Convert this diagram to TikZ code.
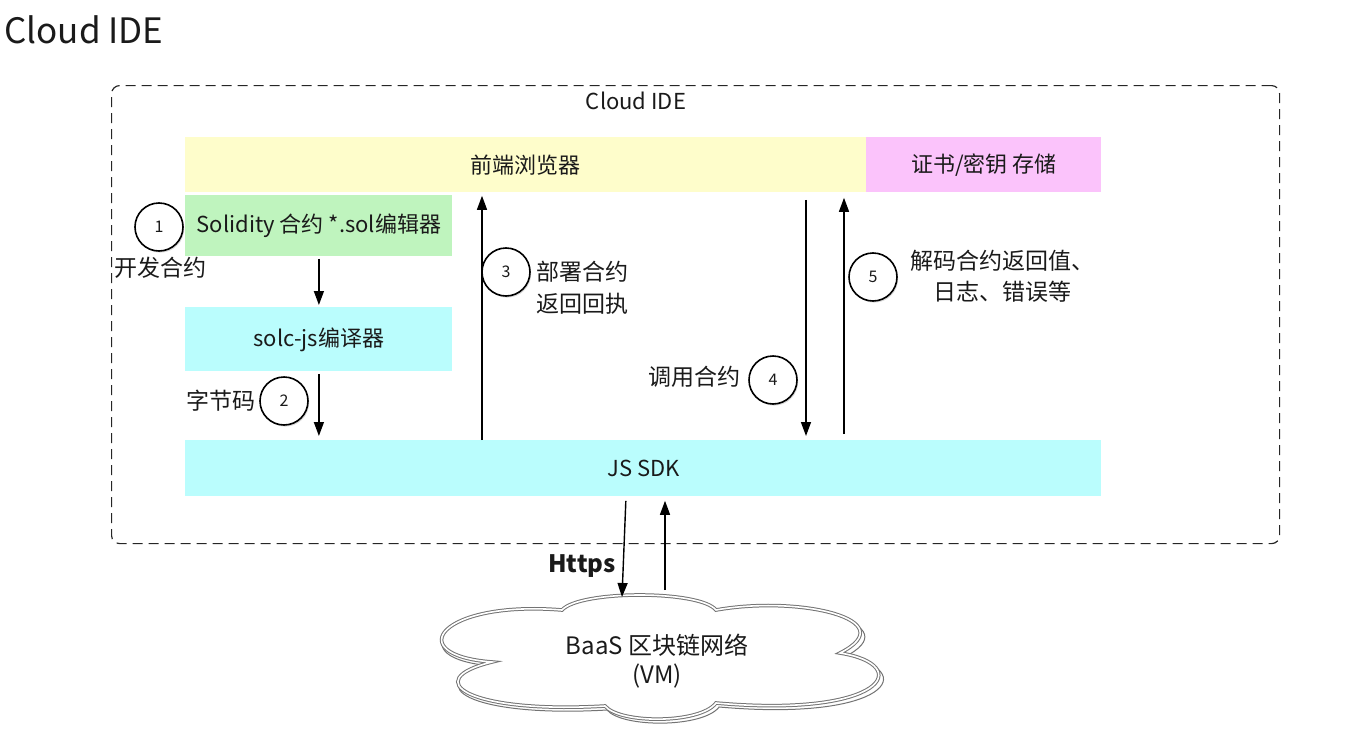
\documentclass[tikz,border=0pt]{standalone}
\usepackage{fontspec}
\setmainfont{Noto Sans CJK SC}
\usetikzlibrary{arrows.meta,shadows}
\definecolor{cyanbox}{HTML}{BAFDFD}
\definecolor{yelbox}{HTML}{FEFDCB}
\definecolor{pinkbox}{HTML}{FBC3FB}
\definecolor{grnbox}{HTML}{BFF4BE}
\definecolor{txt}{HTML}{1A1A1A}
\begin{document}
\begin{tikzpicture}[x=0.5pt,y=-0.5pt,
  box/.style={anchor=north west, inner sep=0pt},
  boxtxt/.style={font=\fontsize{11}{13}\selectfont, text=txt, inner sep=0pt},
  arr/.style={-{Triangle[length=7pt,width=5pt]}, line width=0.7pt, black},
  num/.style={circle, draw=black, line width=0.8pt, fill=white, minimum size=24pt, inner sep=0pt,
    font=\fontsize{8}{9}\selectfont, text=txt,
    drop shadow={shadow xshift=0.6pt, shadow yshift=-0.8pt, opacity=0.3}},
  lbl/.style={font=\fontsize{11.5}{16}\selectfont, text=txt, inner sep=0pt},
  cloudline/.style={draw=black!55, fill=white, line width=0.5pt}]
\useasboundingbox (0,0) rectangle (1350,744);

% title
\node[anchor=west, inner sep=0pt, font=\fontsize{17.5}{20}\selectfont, text=txt] (title) at (4,30) {Cloud IDE};

% dashed frame
\node[draw=black!85, dash pattern=on 5pt off 3pt, line width=0.6pt, rounded corners=4pt,
  minimum width=584pt, minimum height=229pt, anchor=north west, inner sep=0pt] (ide) at (111,85) {};
\node[lbl, font=\fontsize{11}{13}\selectfont] (idelbl) at (636,101) {Cloud IDE};

% boxes
\node[box, fill=yelbox, minimum width=340.5pt, minimum height=27.5pt] (fe) at (185,137) {};
\node[boxtxt] (fet) at (fe.center) {前端浏览器};
\node[box, fill=pinkbox, minimum width=117.5pt, minimum height=27.5pt] (key) at (866,137) {};
\node[boxtxt] (keyt) at (key.center) {证书/密钥 存储};
\node[box, fill=grnbox, minimum width=133.5pt, minimum height=30.5pt] (ed) at (185,195) {};
\node[boxtxt] (edt) at (ed.center) {Solidity 合约 *.sol编辑器};
\node[box, fill=cyanbox, minimum width=133.5pt, minimum height=32pt] (solc) at (185,307) {};
\node[boxtxt] (solct) at (solc.center) {solc-js编译器};
\node[box, fill=cyanbox, minimum width=458pt, minimum height=28pt] (sdk) at (185,440) {};
\node[boxtxt] (sdkt) at (sdk.center) {JS SDK};

% column coordinates
\coordinate (c3) at (482,0);
\coordinate (c4) at (806,0);
\coordinate (c5) at (844,0);
\coordinate (hd) at (626,0);
\coordinate (hu) at (665,0);

% arrows
\draw[arr, shorten <=1pt, shorten >=1pt] (ed.south) -- (solc.north);
\draw[arr, shorten <=1pt, shorten >=2pt] (solc.south) -- (solc.south |- sdk.north);
\draw[arr, shorten >=1.5pt] (sdk.north -| c3) -- (fe.south -| c3);
\draw[arr, shorten <=3.5pt, shorten >=2pt] (fe.south -| c4) -- (sdk.north -| c4);
\draw[arr, shorten <=3pt, shorten >=2.5pt] (sdk.north -| c5) -- (fe.south -| c5);

% cloud (shadow copy, then main outline)
\path[cloudline, xshift=-2pt, yshift=-2pt, xscale=1.01]
  (492,662) .. controls (400,655) and (440,600) .. (562,610)
  .. controls (580,590) and (700,590) .. (716,610)
  .. controls (800,595) and (905,620) .. (840,653)
  .. controls (915,665) and (885,718) .. (716,703)
  .. controls (700,724) and (620,724) .. (605,706)
  .. controls (468,714) and (418,680) .. (492,662) -- cycle;
\path[cloudline, double=white, double distance=0.8pt]
  (492,662) .. controls (400,655) and (440,600) .. (562,610)
  .. controls (580,590) and (700,590) .. (716,610)
  .. controls (800,595) and (905,620) .. (840,653)
  .. controls (915,665) and (885,718) .. (716,703)
  .. controls (700,724) and (620,724) .. (605,706)
  .. controls (468,714) and (418,680) .. (492,662) -- cycle;
\node[align=center, inner sep=0pt, font=\fontsize{12}{14.5}\selectfont, text=txt] (cloud) at (657,661) {BaaS 区块链网络\\(VM)};
\coordinate (hdend) at (622,597);
\coordinate (huend) at (665,590);
\draw[arr, shorten <=2pt] (sdk.south -| hd) -- (hdend);
\draw[arr, shorten >=2pt] (huend) -- (sdk.south -| hu);
\node[lbl, font=\fontsize{12}{14}\selectfont\bfseries] (https) at (582,566) {Https};

% step circles and labels
\node[num] (n1) at (159,227) {1};
\node[lbl] (l1) at (160,268) {开发合约};
\node[num] (n2) at (284,401) {2};
\node[lbl] (l2) at (221,401) {字节码};
\node[num] (n3) at (506,272) {3};
\node[lbl, anchor=west, align=left] (l3) at (536,288) {部署合约\\返回回执};
\node[num] (n4) at (773,380) {4};
\node[lbl] (l4) at (694,377) {调用合约};
\node[num] (n5) at (873,277) {5};
\node[lbl, align=center, font=\fontsize{11.5}{15.5}\selectfont] (l5) at (1002,276) {解码合约返回值、\\日志、错误等};
\end{tikzpicture}
\end{document}
